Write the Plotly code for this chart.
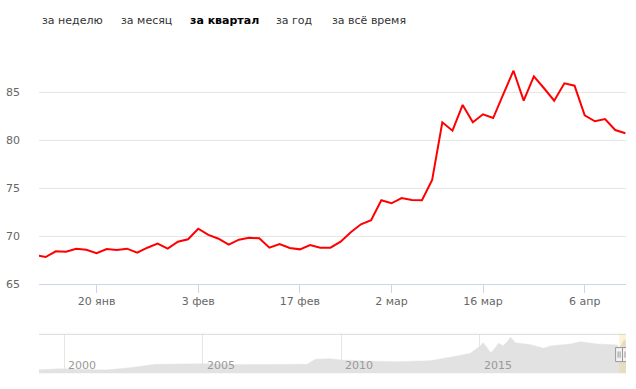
import pandas as pd
import plotly.graph_objects as go

# ---------------- data ----------------
holidays = ["2020-02-24", "2020-03-09", "2020-03-30", "2020-03-31",
            "2020-04-01", "2020-04-02", "2020-04-03"]
dates = [d.strftime("%Y-%m-%d") for d in pd.bdate_range("2020-01-10", "2020-04-10")
         if d.strftime("%Y-%m-%d") not in holidays]

values = [68.05, 67.84, 68.44, 68.40, 68.71, 68.60, 68.23, 68.68, 68.57, 68.71,
          68.29, 68.81, 69.23, 68.71, 69.44, 69.69, 70.79, 70.14, 69.75, 69.13,
          69.65, 69.85, 69.79, 68.81, 69.20, 68.78, 68.64, 69.09, 68.81, 68.81,
          69.44, 70.42, 71.25, 71.67, 73.75, 73.44, 73.99, 73.78, 73.75, 75.86,
          81.88, 81.00, 83.68, 81.88, 82.71, 82.32, 84.82, 87.25, 84.13, 86.67,
          85.42, 84.13, 85.94, 85.69, 82.60, 81.98, 82.22, 81.07, 80.73]

x_tick_dates = ["2020-01-20", "2020-02-03", "2020-02-17", "2020-03-02", "2020-03-16", "2020-04-06"]
x_tick_labels = ["20 янв", "3 фев", "17 фев", "2 мар", "16 мар", "6 апр"]

y_tick_vals = [65, 70, 75, 80, 85, 90]
y_tick_labels = ["65", "70", "75", "80", "85", ""]

nav_dates = ["1999-01-01", "1999-11-25", "2000-06-01", "2001-07-01", "2002-05-25",
             "2003-04-20", "2004-03-15", "2005-01-01", "2006-01-01", "2007-03-15",
             "2008-05-25", "2008-10-10", "2009-01-25", "2009-08-10", "2010-01-01",
             "2010-10-25", "2012-01-05", "2013-03-20", "2014-03-05", "2014-08-28",
             "2014-12-15", "2015-02-15", "2015-03-28", "2015-05-22", "2015-07-01",
             "2015-09-05", "2015-11-03", "2015-12-28", "2016-02-10", "2016-04-15",
             "2016-10-30", "2017-04-22", "2017-07-20", "2018-04-08", "2018-08-18",
             "2019-03-25", "2019-12-20", "2020-01-10", "2020-03-19", "2020-04-10"]
nav_values = [27.0, 29.5, 28.5, 27.0, 31.5,
              38.0, 38.6, 39.3, 37.4, 38.2,
              39.3, 38.2, 48.0, 49.0, 46.6,
              44.6, 43.2, 45.2, 54.4, 59.7,
              71.4, 80.4, 72.6, 60.9, 66.1,
              79.3, 74.6, 82.4, 91.0, 80.4,
              76.5, 69.5, 74.0, 77.9, 82.4,
              77.9, 76.0, 68.0, 87.0, 81.0]
nav_years = ["2000", "2005", "2010", "2015"]

buttons = ["за неделю", "за месяц", "за квартал", "за год", "за всё время"]
active_button = "за квартал"

# ---------------- figure ----------------
W, H = 636, 389
FONT = "DejaVu Sans"

def px_x(p):
    return p / W

def px_y(p):
    return (H - p) / H

fig = go.Figure()

fig.add_trace(go.Scatter(
    x=dates, y=values, mode="lines",
    line=dict(color="#ff0000", width=2),
    xaxis="x", yaxis="y", hoverinfo="skip", showlegend=False))

fig.add_trace(go.Scatter(
    x=nav_dates, y=nav_values, mode="lines", fill="tozeroy",
    fillcolor="#e2e2e2", line=dict(color="#e2e2e2", width=0.5),
    xaxis="x2", yaxis="y2", hoverinfo="skip", showlegend=False))

main_dom_x = [px_x(39), px_x(626)]

fig.update_layout(
    width=W, height=H,
    margin=dict(l=0, r=0, t=0, b=0, pad=0, autoexpand=False),
    paper_bgcolor="white", plot_bgcolor="white",
    font=dict(family=FONT, size=11, color="#666666"),
    xaxis=dict(
        type="category", domain=main_dom_x, anchor="y",
        range=[0.344, 58.06], automargin=False,
        tickmode="array", tickvals=x_tick_dates, ticktext=x_tick_labels,
        ticks="outside", ticklen=8, tickcolor="#ccd6eb", tickwidth=1,
        ticklabelstandoff=-2,
        showline=True, linecolor="#ccd6eb", linewidth=1,
        showgrid=False, zeroline=False,
        tickfont=dict(family=FONT, size=11, color="#666666"),
    ),
    yaxis=dict(
        domain=[px_y(284.3), px_y(44.3)], anchor="x",
        range=[65, 90], automargin=False,
        tickmode="array", tickvals=y_tick_vals, ticktext=y_tick_labels,
        showgrid=True, gridcolor="#e6e6e6", gridwidth=1,
        zeroline=False, showline=False, ticks="",
        ticklabelstandoff=18,
        tickfont=dict(family=FONT, size=11, color="#666666"),
    ),
    xaxis2=dict(
        type="date", domain=main_dom_x, anchor="y2",
        range=["1999-02-05", "2020-04-10"], automargin=False,
        tickmode="array", tickvals=[y + "-01-01" for y in nav_years],
        showticklabels=False, showgrid=True, gridcolor="#e6e6e6",
        zeroline=False, showline=False, ticks="",
    ),
    yaxis2=dict(
        domain=[px_y(373.3), px_y(334.3)], anchor="x2",
        range=[20.5, 96.9], automargin=False,
        showticklabels=False, showgrid=False, zeroline=False, showline=False,
    ),
)

shapes = []
# navigator top outline
shapes.append(dict(type="line", xref="x2 domain", yref="y2 domain",
                   x0=0, x1=1, y0=1, y1=1, line=dict(color="#d9d9d9", width=1)))
# selection mask
shapes.append(dict(type="rect", xref="x2", yref="y2 domain",
                   x0=dates[0], x1=dates[-1], y0=0, y1=1,
                   fillcolor="rgba(240,200,80,0.22)", line=dict(width=0), layer="above"))
# handles
for anchor in (dates[0], dates[-1]):
    shapes.append(dict(type="rect", xref="x2", yref="y2 domain",
                       xsizemode="pixel", xanchor=anchor, x0=-3.5, x1=3.5,
                       y0=0.3, y1=0.66, fillcolor="#f2f2f2",
                       line=dict(color="#999999", width=1), layer="above"))
    for off in (-1, 1):
        shapes.append(dict(type="line", xref="x2", yref="y2 domain",
                           xsizemode="pixel", xanchor=anchor, x0=off, x1=off,
                           y0=0.4, y1=0.56, line=dict(color="#999999", width=1),
                           layer="above"))
fig.update_layout(shapes=shapes)

annotations = []
btn_left = [40, 119, 188, 274, 330]
for txt, left in zip(buttons, btn_left):
    bold = txt == active_button
    annotations.append(dict(
        text=f"<b>{txt}</b>" if bold else txt,
        xref="paper", yref="paper", x=px_x(left), y=px_y(20.5),
        xanchor="left", yanchor="middle", showarrow=False,
        font=dict(family=FONT, size=11, color="#000000" if bold else "#333333")))
for yr in nav_years:
    annotations.append(dict(
        text=yr, xref="x2", yref="paper", x=yr + "-01-01", y=px_y(365.7),
        xanchor="left", yanchor="middle", xshift=2, showarrow=False,
        font=dict(family=FONT, size=11, color="#999999")))
fig.update_layout(annotations=annotations)

fig.write_html(
    "out.html", config={"displayModeBar": False},
    post_script=("document.body.style.margin='0';document.body.style.padding='0';"
                 "document.documentElement.style.overflow='hidden';"
                 "document.body.style.overflow='hidden';"))
